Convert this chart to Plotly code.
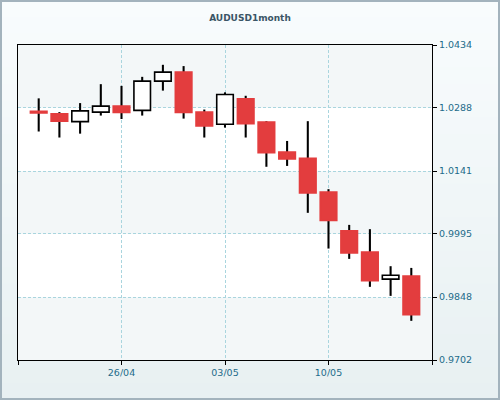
import plotly.graph_objects as go

# ---- data ----
dates = ["20/04", "23/04", "24/04", "25/04", "26/04", "27/04", "30/04", "01/05", "02/05", "03/05",
         "04/05", "07/05", "08/05", "09/05", "10/05", "11/05", "14/05", "15/05", "16/05"]
opens  = [1.0280, 1.0274, 1.0256, 1.0278, 1.0292, 1.0282, 1.0350, 1.0371, 1.0278, 1.0250,
          1.0309, 1.0255, 1.0185, 1.0171, 1.0092, 1.0002, 0.9953, 0.9890, 0.9897]
highs  = [1.0310, 1.0278, 1.0299, 1.0343, 1.0339, 1.0360, 1.0388, 1.0385, 1.0284, 1.0324,
          1.0316, 1.0257, 1.0211, 1.0257, 1.0099, 1.0016, 1.0006, 0.9920, 0.9916]
lows   = [1.0233, 1.0219, 1.0228, 1.0270, 1.0262, 1.0270, 1.0328, 1.0263, 1.0219, 1.0242,
          1.0219, 1.0151, 1.0153, 1.0044, 0.9961, 0.9937, 0.9872, 0.9851, 0.9793]
closes = [1.0276, 1.0257, 1.0281, 1.0292, 1.0277, 1.0350, 1.0371, 1.0277, 1.0246, 1.0319,
          1.0251, 1.0184, 1.0169, 1.0090, 1.0026, 0.9951, 0.9886, 0.9899, 0.9807]
x_tick_labels = ["26/04", "03/05", "10/05"]
y_ticks = [0.9702, 0.9848, 0.9995, 1.0141, 1.0288, 1.0434]
title = "AUDUSD1month"

RED = "#e33d3e"
LABEL = "#1d6b8a"

idx = list(range(len(dates)))
up = [c >= o for o, c in zip(opens, closes)]
body_base = [min(o, c) for o, c in zip(opens, closes)]
body_h = [abs(c - o) for o, c in zip(opens, closes)]
wick_h = [h - l for h, l in zip(highs, lows)]

fig = go.Figure()
fig.add_trace(go.Bar(x=idx, y=wick_h, base=lows, width=0.1,
                     marker=dict(color="#000000", line=dict(width=0)),
                     hoverinfo="skip", showlegend=False))
fig.add_trace(go.Bar(x=idx, y=body_h, base=body_base, width=0.8,
                     marker=dict(color=["#ffffff" if u else RED for u in up],
                                 line=dict(color=["#000000" if u else RED for u in up], width=1.6)),
                     hoverinfo="skip", showlegend=False))

tick_pos = [dates.index(t) for t in x_tick_labels]

shapes = []
# paper gradient background
n = 24
y0p, y1p = -40 / 315, 360 / 315
for i in range(n):
    t = i / (n - 1)
    r = int(round(0xe8 + (0xf8 - 0xe8) * t))
    g = int(round(0xf0 + (0xfc - 0xf0) * t))
    b = int(round(0xf2 + (0xfd - 0xf2) * t))
    shapes.append(dict(type="rect", xref="paper", yref="paper", layer="below",
                       x0=-0.05, x1=1.2, y0=y0p + (y1p - y0p) * i / n - 0.001,
                       y1=y0p + (y1p - y0p) * (i + 1) / n + 0.001,
                       fillcolor=f"rgb({r},{g},{b})", line=dict(width=0)))
# alternating plot bands
for i in range(len(y_ticks) - 1):
    col = "#f3f7f8" if i % 2 == 0 else "#ffffff"
    shapes.append(dict(type="rect", xref="x domain", yref="y", layer="below",
                       x0=0, x1=1, y0=y_ticks[i], y1=y_ticks[i + 1],
                       fillcolor=col, line=dict(width=0)))
# outer border
shapes.append(dict(type="rect", xref="paper", yref="paper", layer="above",
                   x0=-18 / 414 + 1 / 414, x1=(500 - 18) / 414 - 1 / 414,
                   y0=-40 / 315 + 1 / 315, y1=360 / 315 - 1 / 315,
                   line=dict(color="#a3b3bd", width=2), fillcolor="rgba(0,0,0,0)"))

fig.update_layout(
    width=500, height=400,
    margin=dict(l=18, r=68, t=45, b=40),
    paper_bgcolor="#eef4f6", plot_bgcolor="rgba(0,0,0,0)",
    barmode="overlay",
    title=dict(text=f"<b>{title}</b>", x=0.5, xanchor="center", y=1 - 18 / 400, yanchor="middle",
               font=dict(family="DejaVu Sans", size=9, color="#3a5566")),
    font=dict(family="DejaVu Sans", size=9.5, color=LABEL),
    shapes=shapes,
    xaxis=dict(range=[-1, len(dates)], tickmode="array",
               tickvals=[-1] + tick_pos + [len(dates)],
               ticktext=[""] + x_tick_labels + [""],
               ticks="outside", ticklen=4, tickcolor="#000000", tickwidth=1,
               showline=True, linecolor="#000000", linewidth=1, mirror=True,
               showgrid=True, gridcolor="#a9d5de", griddash="3px,2px", gridwidth=1,
               zeroline=False, tickfont=dict(color=LABEL, size=9.5)),
    yaxis=dict(range=[y_ticks[0], y_ticks[-1]], side="right", tickmode="array",
               tickvals=y_ticks, ticktext=[f"{v:.4f}" for v in y_ticks],
               ticks="outside", ticklen=4, tickcolor="#000000", tickwidth=1,
               showline=True, linecolor="#000000", linewidth=1, mirror=True,
               showgrid=True, gridcolor="#a9d5de", griddash="3px,2px", gridwidth=1,
               zeroline=False, tickfont=dict(color=LABEL, size=9.5)),
)

fig.write_html("out.html", config={"displayModeBar": False},
               post_script="document.body.style.margin='0';document.body.style.overflow='hidden';")
